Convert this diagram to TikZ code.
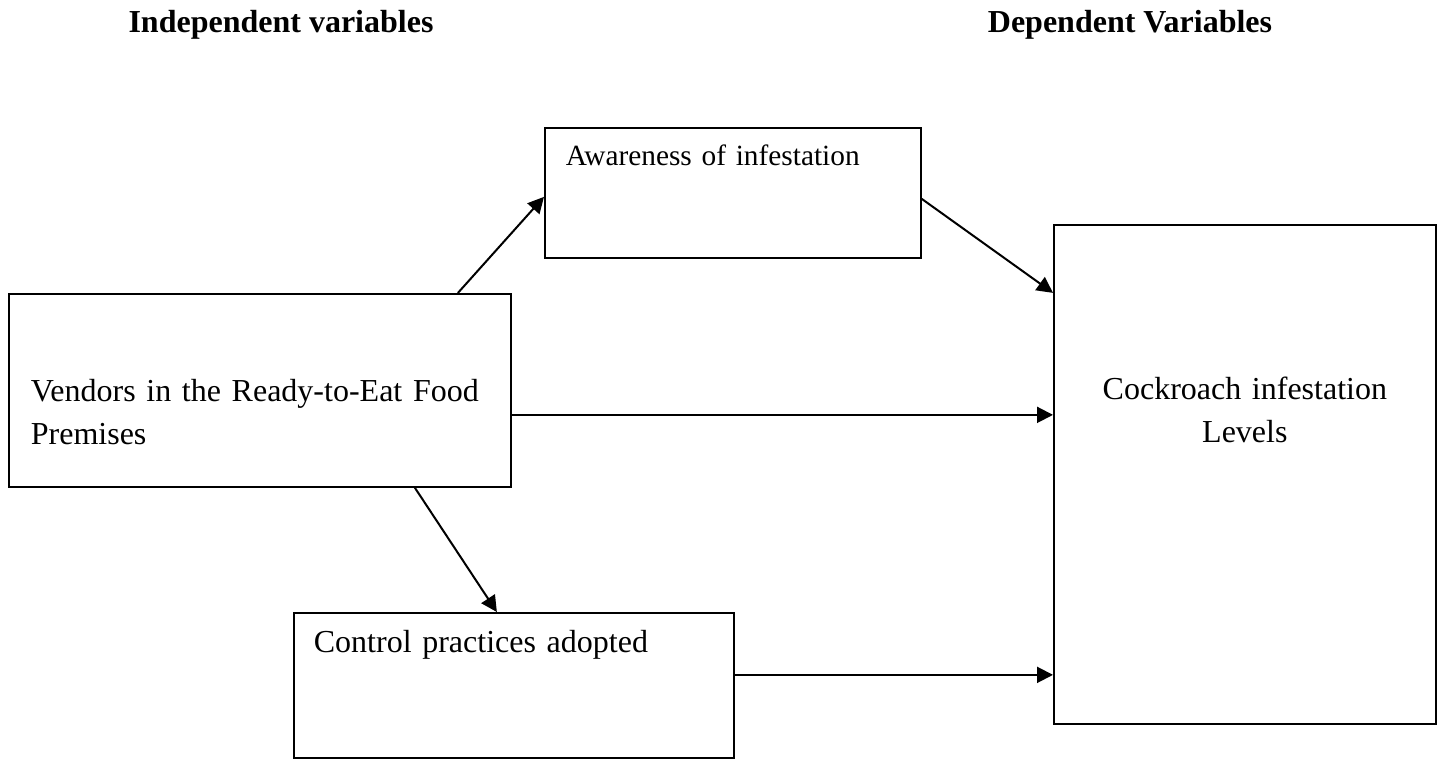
\documentclass[tikz,border=0pt]{standalone}
\usepackage{fontspec}
\setmainfont{Liberation Serif}
\usetikzlibrary{arrows.meta}
\tikzstyle{heading} = [font=\fontsize{12pt}{16pt}\selectfont\bfseries, anchor=base]
\tikzstyle{factor} = [rectangle, draw=black, line width=0.65pt, align=left, inner ysep=0pt, anchor=north west]
\tikzstyle{link} = [-{Triangle[length=6pt,width=6pt]}, line width=0.75pt]

\begin{document}
\begin{tikzpicture}[x=0.375pt, y=-0.375pt, font=\fontsize{12pt}{16pt}\selectfont]
  \useasboundingbox (0,0) rectangle (1437,759);

  \node (indep) [heading] at (281,33) {Independent variables};
  \node (dep) [heading] at (1130,33) {Dependent Variables};

  \node (aware) [factor, font=\fontsize{11pt}{13pt}\selectfont, inner xsep=7.875pt, text width=125.25pt, text height=14.25pt, text depth=34.5pt] at (544,127) {Awareness of infestation};
  \node (vend) [factor, inner xsep=8.25pt, text width=171.75pt, text height=40.5pt, text depth=31.875pt] at (8,293) {Vendors in the Ready-to-Eat Food\\Premises};
  \node (ctrl) [factor, inner xsep=7.5pt, text width=150pt, text height=15pt, text depth=39.375pt] at (293,612) {Control practices adopted};
  \node (cock) [factor, align=center, inner xsep=0pt, text width=143.25pt, text height=65.625pt, text depth=121.5pt] at (1053,224) {Cockroach infestation\\Levels};

  \draw [link] ([shift={(198,0)}]vend.north) -- ([shift={(0,4)}]aware.west);
  \draw [link] ([shift={(0,6)}]aware.east) -- ([shift={(0,-181.5)}]cock.west);
  \draw [link] ([shift={(0,24.5)}]vend.east) -- ([shift={(0,24.5)}]vend.east -| cock.west);
  \draw [link] ([shift={(155,0)}]vend.south) -- ([shift={(-17,0)}]ctrl.north);
  \draw [link] ([shift={(0,-10.5)}]ctrl.east) -- ([shift={(0,-10.5)}]ctrl.east -| cock.west);

\end{tikzpicture}
\end{document}
